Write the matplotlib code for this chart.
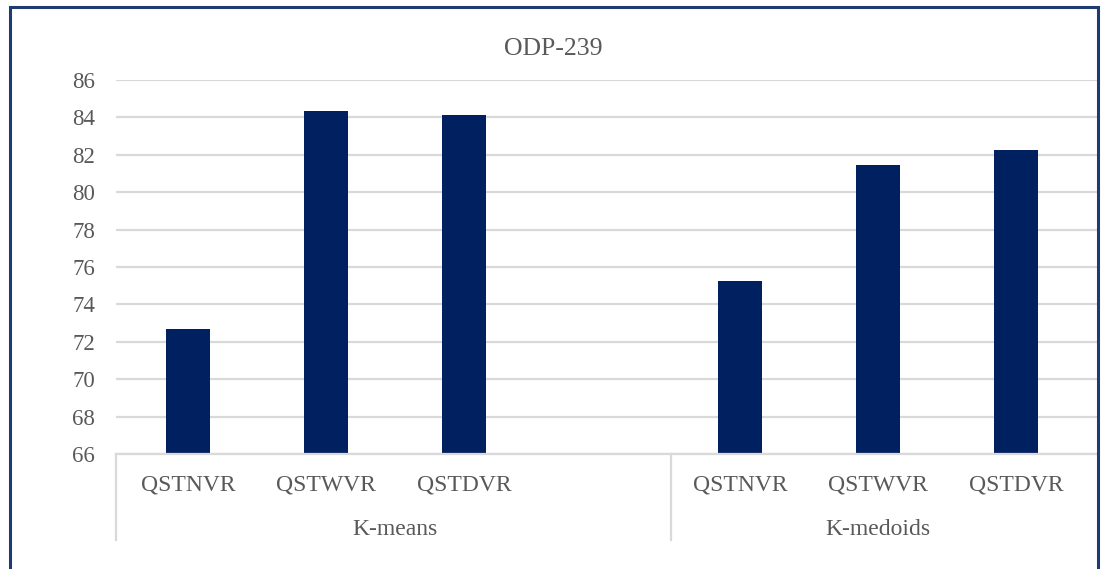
import matplotlib
matplotlib.use("Agg")
import matplotlib.pyplot as plt
from matplotlib.patches import Rectangle
from matplotlib.lines import Line2D

# Data
groups = ["K-means", "K-medoids"]
methods = ["QSTNVR", "QSTWVR", "QSTDVR"]
kmeans_vals = [72.68, 84.36, 84.12]
kmedoids_vals = [75.26, 81.44, 82.28]
y_ticks = [66, 68, 70, 72, 74, 76, 78, 80, 82, 84, 86]

BAR = "#002060"
TXT = "#595959"
GRID = "#D9D9D9"
FONT = ["Liberation Serif", "DejaVu Serif"]

plt.rcParams["font.family"] = FONT

W, H = 1102, 569
fig = plt.figure(figsize=(W / 100, H / 100), dpi=100)
fig.patch.set_facecolor("white")

# plot area in pixel terms
left_px, right_px, top_px, bottom_px = 116, 1097, 80, 454
ax = fig.add_axes([left_px / W, 1 - bottom_px / H,
                   (right_px - left_px) / W, (bottom_px - top_px) / H])

# slot layout: K-means group has an empty fourth slot
kmeans_x = [0, 1, 2]
kmedoids_x = [4, 5, 6]
group_slots = [(-0.5, 3.5), (3.5, 6.5)]
group_centers = [1.5, 5.0]

bw = 0.32
ax.bar(kmeans_x, kmeans_vals, width=bw, color=BAR, zorder=3)
ax.bar(kmedoids_x, kmedoids_vals, width=bw, color=BAR, zorder=3)

ax.set_ylim(66, 86)
ax.set_xlim(-0.524, 6.587)
ax.set_yticks(y_ticks)
ax.set_yticklabels([str(v) for v in y_ticks])
ax.tick_params(axis="y", length=0, pad=15, labelsize=16.5, labelcolor=TXT)
ax.set_xticks([])
ax.yaxis.grid(True, color=GRID, linewidth=1.6, zorder=0)
for s in ["top", "right", "left"]:
    ax.spines[s].set_visible(False)
ax.spines["bottom"].set_color(GRID)
ax.spines["bottom"].set_linewidth(1.6)
ax.spines["bottom"].set_zorder(4)

# category labels
for xs in (kmeans_x, kmedoids_x):
    for x, m in zip(xs, methods):
        ax.annotate(m, xy=(x, 0), xycoords=("data", "axes fraction"),
                    xytext=(0, -26.6), textcoords="offset points",
                    ha="center", va="baseline", fontsize=17, color=TXT,
                    annotation_clip=False)

# group labels
for c, g in zip(group_centers, groups):
    ax.annotate(g, xy=(c, 0), xycoords=("data", "axes fraction"),
                xytext=(0, -58.3), textcoords="offset points",
                ha="center", va="baseline", fontsize=17, color=TXT,
                annotation_clip=False)

# group separator lines below the axis
sep_depth = (540 - bottom_px) / (bottom_px - top_px)
trans = ax.get_xaxis_transform()
ax.add_line(Line2D([0, 0], [0, -sep_depth], transform=ax.transAxes,
                   color=GRID, linewidth=1.6, clip_on=False))
ax.add_line(Line2D([group_slots[0][1]] * 2, [0, -sep_depth], transform=trans,
                   color=GRID, linewidth=1.6, clip_on=False))

# title
fig.text(0.502, 1 - 55 / H, "ODP-239",
         ha="center", va="baseline", fontsize=18.5, color=TXT)

# chart frame
fig.patches.append(Rectangle((10 / W, -0.05), (1098 - 10) / W, 1.05 - 7 / H,
                             transform=fig.transFigure, fill=False,
                             edgecolor="#203A72", linewidth=2.2))

fig.savefig("out.png", dpi=100, facecolor="white")
